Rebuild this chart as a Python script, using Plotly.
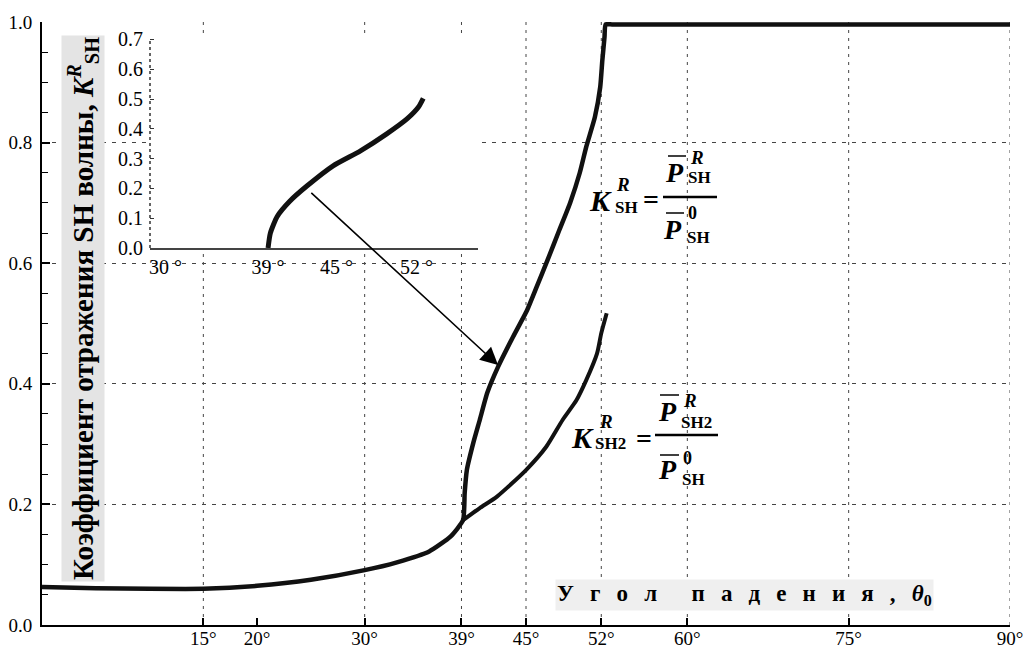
import plotly.graph_objects as go

# ---------------- data ----------------
THETA_SH = [0, 5, 10, 15, 20, 25, 30, 33, 36, 38, 39.15, 39.3, 39.5, 40.1, 40.7, 41.4, 42.4,
            43.8, 45.1, 46.0, 47.0, 48.1, 49.1, 50.0, 50.6, 51.4, 51.9, 52.1, 52.3, 52.4, 53,
            55, 60, 75, 90]
K_SH = [0.063, 0.061, 0.060, 0.060, 0.065, 0.075, 0.091, 0.104, 0.122, 0.147, 0.174, 0.219, 0.257,
        0.302, 0.340, 0.385, 0.428, 0.478, 0.522, 0.561, 0.605, 0.655, 0.700, 0.750, 0.793, 0.842,
        0.892, 0.937, 0.975, 0.996, 0.996, 0.996, 0.996, 0.996, 0.996]

THETA_SH2 = [39.15, 40.7, 42.3, 45.0, 46.9, 48.4, 49.7, 50.6, 51.6, 52.0, 52.5]
K_SH2 = [0.174, 0.194, 0.213, 0.257, 0.296, 0.340, 0.373, 0.406, 0.450, 0.484, 0.517]

THETA_INSET = [39.0, 39.2, 39.8, 40.9, 42.4, 44.7, 47.1, 49.4, 51.2, 52.2, 52.6]
K_INSET = [0.0, 0.05, 0.106, 0.157, 0.208, 0.276, 0.326, 0.383, 0.434, 0.474, 0.502]

X_TICKS = [15, 20, 30, 39, 45, 52, 60, 75, 90]
X_TICK_TEXT = ["15°", "20°", "30°", "39°", "45°", "52°", "60°", "75°", "90°"]
X_GRID = [15, 30, 39, 45, 52, 60, 75, 90]
Y_TICKS = [0.0, 0.2, 0.4, 0.6, 0.8, 1.0]
Y_TICK_TEXT = ["0.0", "0.2", "0.4", "0.6", "0.8", "1.0"]

INSET_X_TICKS = [30, 39, 45, 52]
INSET_X_TICK_TEXT = ["30 °", "39 °", "45 °", "52 °"]
INSET_Y_TICKS = [0.0, 0.1, 0.2, 0.3, 0.4, 0.5, 0.6, 0.7]
INSET_Y_TICK_TEXT = ["0.0", "0.1", "0.2", "0.3", "0.4", "0.5", "0.6", "0.7"]

# arrow: from inset curve point to main curve point (main-axis coordinates)
ARROW_TAIL = (24.9, 0.719)
ARROW_HEAD = (42.4, 0.431)

SERIF = "Liberation Serif"
W, H = 1028, 651
L, R, T, B = 42, 18, 22, 26
PW, PH = W - L - R, H - T - B


def px(x):
    return (x - L) / PW


def py(y):
    return (H - B - y) / PH


fig = go.Figure()

fig.add_trace(go.Scatter(x=THETA_SH, y=K_SH, mode="lines",
                         line=dict(color="#111", width=4.5, shape="spline", smoothing=0.5),
                         xaxis="x", yaxis="y", showlegend=False, hoverinfo="skip"))
fig.add_trace(go.Scatter(x=THETA_SH2, y=K_SH2, mode="lines",
                         line=dict(color="#111", width=4, shape="spline", smoothing=0.6),
                         xaxis="x", yaxis="y", showlegend=False, hoverinfo="skip"))
fig.add_trace(go.Scatter(x=THETA_INSET, y=K_INSET, mode="lines",
                         line=dict(color="#111", width=5, shape="spline", smoothing=0.6),
                         xaxis="x2", yaxis="y2", showlegend=False, hoverinfo="skip"))

shapes = []
for gx in X_GRID:
    shapes.append(dict(type="line", xref="x", yref="y", x0=gx, x1=gx, y0=0, y1=1.0,
                       line=dict(color="#444", width=1, dash="3px,5px"), layer="below"))
# dotted inset y axis line
shapes.append(dict(type="line", xref="x2 domain", yref="y2 domain", x0=0, x1=0, y0=0, y1=1,
                   line=dict(color="#333", width=1.5, dash="dot"), layer="above"))

annotations = []


def txt(s, x, y, size, xanchor="center", yanchor="middle"):
    annotations.append(dict(text=s, x=px(x), y=py(y), xref="paper", yref="paper",
                            showarrow=False, xanchor=xanchor, yanchor=yanchor,
                            font=dict(family=SERIF, size=size, color="black")))


def hline(x0, x1, y, w=1.5):
    shapes.append(dict(type="line", xref="paper", yref="paper", x0=px(x0), x1=px(x1),
                       y0=py(y), y1=py(y), line=dict(color="black", width=w), layer="above"))


# formula 1: K^R_SH = P^R_SH / P^0_SH
txt("<b><i>K</i></b>", 614, 200, 30, "right")
txt("<b><i>R</i></b>", 614, 184, 19, "left")
txt("<b>SH</b>", 613, 207, 17, "left")
txt("<b>=</b>", 651, 199, 28)
hline(663, 717, 197, 2.5)
txt("<b><i>P</i></b>", 686, 173, 28, "right")
hline(668, 686, 156)
txt("<b><i>R</i></b>", 688, 157, 19, "left")
txt("<b>SH</b>", 686, 177, 17, "left")
txt("<b><i>P</i></b>", 684, 229, 28, "right")
hline(666, 684, 213)
txt("<b>0</b>", 686, 213, 18, "left")
txt("<b>SH</b>", 685, 237, 17, "left")

# formula 2: K^R_SH2 = P^R_SH2 / P^0_SH
txt("<b><i>K</i></b>", 596, 437, 30, "right")
txt("<b><i>R</i></b>", 597, 421, 19, "left")
txt("<b>SH2</b>", 593, 444, 17, "left")
txt("<b>=</b>", 644, 438, 28)
hline(655, 718, 435, 2.5)
txt("<b><i>P</i></b>", 679, 411, 28, "right")
hline(660, 679, 395)
txt("<b><i>R</i></b>", 681, 400, 19, "left")
txt("<b>SH2</b>", 679, 422, 17, "left")
txt("<b><i>P</i></b>", 679, 470, 28, "right")
hline(660, 679, 455)
txt("<b>0</b>", 681, 458, 18, "left")
txt("<b>SH</b>", 680, 479, 17, "left")

# y-axis title (inside the plot, vertical, shaded background)
annotations.append(dict(
    text="<b>Коэффициент отражения SH волны, <i>K</i><sup><i>R</i></sup><sub>SH</sub></b>",
    x=px(83), y=py(309), xref="paper", yref="paper", showarrow=False, textangle=-90,
    xanchor="center", yanchor="middle", bgcolor="#e4e4e4",
    font=dict(family=SERIF, size=29, color="black")))

# x-axis title (inside the plot, spaced letters)
sp = "\u2002\u2009"
word = "\u2002\u2002\u2002"
xt = sp.join("Угол") + word + sp.join("падения,") + sp + "<i>θ</i><sub>0</sub>"
annotations.append(dict(
    text="<b>" + xt + "</b>", x=px(555), y=py(595), xref="paper", yref="paper",
    showarrow=False, xanchor="left", yanchor="middle", bgcolor="#efefef",
    font=dict(family=SERIF, size=23, color="black")))

# arrow
annotations.append(dict(
    text="", x=ARROW_HEAD[0], y=ARROW_HEAD[1], xref="x", yref="y",
    ax=ARROW_TAIL[0], ay=ARROW_TAIL[1], axref="x", ayref="y",
    showarrow=True, arrowhead=2, arrowsize=2.2, arrowwidth=1.6, arrowcolor="black",
    standoff=0, startstandoff=0))

fig.update_layout(
    template="none",
    width=W, height=H,
    margin=dict(l=L, r=R, t=T, b=B, autoexpand=False),
    font=dict(family=SERIF, color="black"),
    paper_bgcolor="white", plot_bgcolor="white",
    showlegend=False,
    xaxis=dict(domain=[0, 1], range=[0, 90], tickmode="array", tickvals=X_TICKS,
               ticktext=X_TICK_TEXT, ticks="inside", ticklen=7, tickwidth=1.5,
               tickcolor="black", showline=True, linecolor="black", linewidth=2,
               showgrid=False, zeroline=False, automargin=False, ticklabelstandoff=-5,
               tickfont=dict(family=SERIF, size=19, color="black"), anchor="y"),
    yaxis=dict(domain=[0, 1], range=[0, 1.0], tickmode="array", tickvals=Y_TICKS,
               ticktext=Y_TICK_TEXT, ticks="inside", ticklen=8, tickwidth=1.5,
               tickcolor="black", showline=True, linecolor="black", linewidth=2,
               showgrid=True, gridcolor="#444", gridwidth=1, griddash="4px,6px",
               zeroline=False, automargin=False, ticklabelstandoff=4,
               minor=dict(dtick=0.05, tick0=0, ticks="inside", ticklen=6, tickwidth=1.2,
                          tickcolor="black", showgrid=False),
               tickfont=dict(family=SERIF, size=19, color="black"), anchor="x"),
    xaxis2=dict(domain=[px(150), px(478)], range=[28.65, 57.4], tickmode="array",
                tickvals=INSET_X_TICKS, ticktext=INSET_X_TICK_TEXT, ticks="",
                showline=True, linecolor="#444", linewidth=1.5, showgrid=False,
                zeroline=False, automargin=False,
                tickfont=dict(family=SERIF, size=20, color="black"), anchor="y2"),
    yaxis2=dict(domain=[py(248), py(38)], range=[0, 0.705], tickmode="array",
                tickvals=INSET_Y_TICKS, ticktext=INSET_Y_TICK_TEXT, ticks="inside",
                ticklen=4, tickcolor="#333", showline=False, showgrid=False,
                zeroline=False, automargin=False, ticklabelstandoff=6,
                tickfont=dict(family=SERIF, size=20, color="black"), anchor="x2"),
    shapes=shapes,
    annotations=annotations,
)

fig.write_html("out.html", config={"displayModeBar": False},
               post_script="document.body.style.margin='0';document.body.style.overflow='hidden';")
